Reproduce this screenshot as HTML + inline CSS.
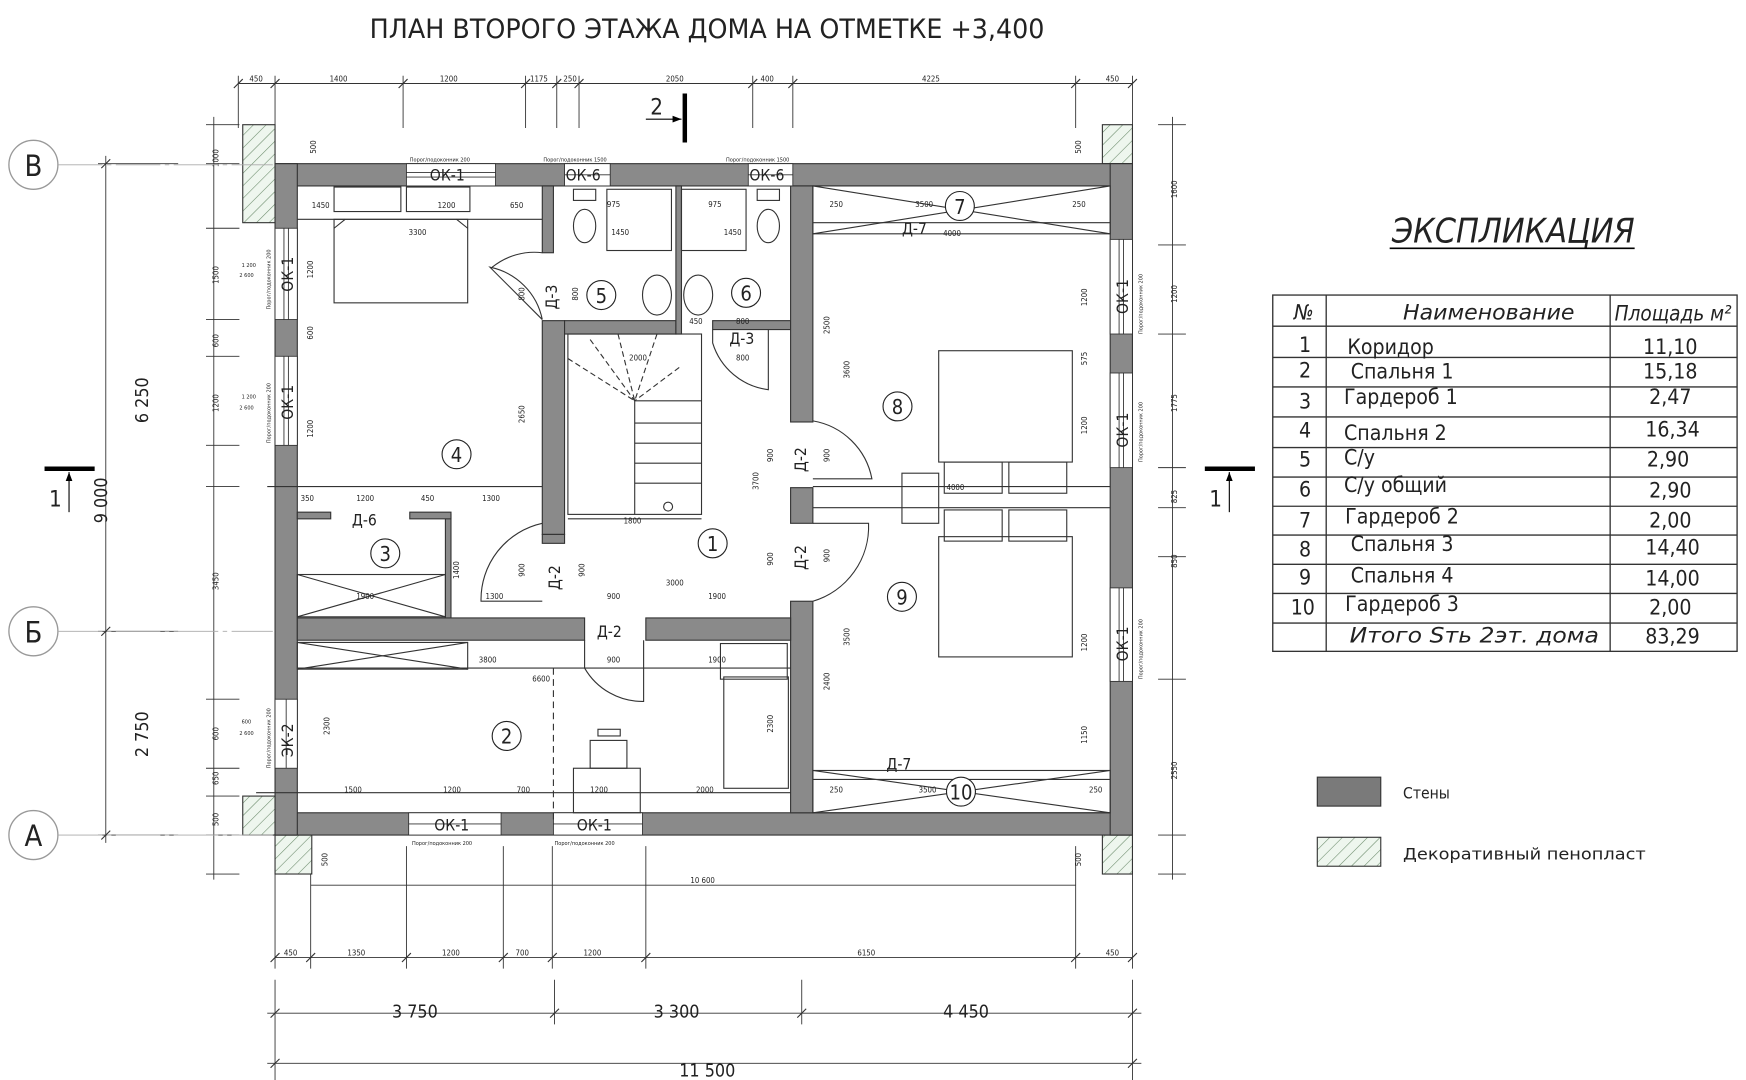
<!DOCTYPE html>
<html><head><meta charset="utf-8"><style>
html,body{margin:0;padding:0;background:#fff;}
svg{display:block;}
text{font-family:"DejaVu Sans Condensed","DejaVu Sans","Liberation Sans",sans-serif;fill:#222;}
.t{font-size:7px;}
.s{font-size:5px;}
.d{font-size:16px;}
</style></head><body>
<svg width="1746" height="1080" viewBox="0 0 1568 970" preserveAspectRatio="none" xmlns="http://www.w3.org/2000/svg">
<defs>
<pattern id="h" width="8" height="8" patternUnits="userSpaceOnUse" patternTransform="rotate(45)">
<rect width="8" height="8" fill="#eef6ee"/><line x1="0" y1="0" x2="0" y2="8" stroke="#6a8a6a" stroke-width="1"/></pattern>
</defs>
<rect width="1568" height="970" fill="#fff"/>
<text x="635" y="34" text-anchor="middle" font-size="24" textLength="606" lengthAdjust="spacingAndGlyphs">ПЛАН ВТОРОГО ЭТАЖА ДОМА НА ОТМЕТКЕ +3,400</text>

<!-- foam blocks -->
<g fill="url(#h)" stroke="#333" stroke-width="1">
<rect x="218" y="112" width="29" height="88"/>
<rect x="990" y="112" width="27" height="35"/>
<rect x="218" y="715" width="29" height="35"/>
<rect x="247" y="750" width="33" height="35"/>
<rect x="990" y="750" width="27" height="35"/>
</g>

<!-- walls -->
<g fill="#8a8a8a" stroke="#333" stroke-width="1">
<rect x="247" y="147" width="770" height="20"/>
<rect x="247" y="730" width="770" height="20"/>
<rect x="247" y="147" width="20" height="603"/>
<rect x="997" y="147" width="20" height="603"/>
<rect x="487" y="167" width="10" height="60"/>
<rect x="487" y="288" width="20" height="192"/>
<rect x="507" y="288" width="100" height="12"/>
<rect x="640" y="288" width="70" height="8"/>
<rect x="607" y="167" width="5" height="133"/>
<rect x="710" y="167" width="20" height="212"/>
<rect x="710" y="438" width="20" height="32"/>
<rect x="710" y="540" width="20" height="190"/>
<rect x="267" y="555" width="258" height="20"/>
<rect x="580" y="555" width="130" height="20"/>
<rect x="487" y="480" width="20" height="8"/>
<rect x="400" y="462" width="5" height="93"/>
<rect x="267" y="460" width="30" height="6"/>
<rect x="368" y="460" width="37" height="6"/>
</g>

<!-- windows -->
<g fill="#fff" stroke="#333" stroke-width="0.8">
<rect x="365" y="147" width="80" height="20"/><line x1="365" y1="155" x2="445" y2="155"/><line x1="365" y1="159" x2="445" y2="159"/>
<rect x="507" y="147" width="41" height="20"/><line x1="507" y1="157" x2="548" y2="157"/>
<rect x="672" y="147" width="40" height="20"/><line x1="672" y1="157" x2="712" y2="157"/>
<rect x="247" y="205" width="20" height="82"/><line x1="255" y1="205" x2="255" y2="287"/><line x1="259" y1="205" x2="259" y2="287"/>
<rect x="247" y="320" width="20" height="80"/><line x1="255" y1="320" x2="255" y2="400"/><line x1="259" y1="320" x2="259" y2="400"/>
<rect x="247" y="628" width="20" height="62"/><line x1="257" y1="628" x2="257" y2="690"/>
<rect x="997" y="215" width="20" height="85"/><line x1="1005" y1="215" x2="1005" y2="300"/><line x1="1009" y1="215" x2="1009" y2="300"/>
<rect x="997" y="335" width="20" height="85"/><line x1="1005" y1="335" x2="1005" y2="420"/><line x1="1009" y1="335" x2="1009" y2="420"/>
<rect x="997" y="528" width="20" height="84"/><line x1="1005" y1="528" x2="1005" y2="612"/><line x1="1009" y1="528" x2="1009" y2="612"/>
<rect x="367" y="730" width="83" height="20"/><line x1="367" y1="740" x2="450" y2="740"/>
<rect x="497" y="730" width="80" height="20"/><line x1="497" y1="740" x2="577" y2="740"/>
</g>
<g font-size="14" fill="#555">
<text x="386" y="162" fill="#555">ОК-1</text><text x="508" y="162">ОК-6</text><text x="673" y="162">ОК-6</text>
<text x="390" y="746">ОК-1</text><text x="518" y="746">ОК-1</text>
<text transform="translate(263,262) rotate(-90)">ОК-1</text>
<text transform="translate(263,377) rotate(-90)">ОК-1</text>
<text transform="translate(263,680) rotate(-90)">ЭК-2</text>
<text transform="translate(1013,282) rotate(-90)">ОК-1</text>
<text transform="translate(1013,402) rotate(-90)">ОК-1</text>
<text transform="translate(1013,594) rotate(-90)">ОК-1</text>
</g>

<!-- interior thin lines -->
<g stroke="#333" stroke-width="1" fill="none">
<line x1="730" y1="437" x2="997" y2="437"/><line x1="730" y1="456" x2="997" y2="456"/>
<rect x="730" y="167" width="267" height="43"/><line x1="730" y1="167" x2="997" y2="210"/><line x1="730" y1="210" x2="997" y2="167"/>
<line x1="730" y1="200" x2="997" y2="200"/>
<rect x="730" y="692" width="267" height="38"/><line x1="730" y1="692" x2="997" y2="730"/><line x1="730" y1="730" x2="997" y2="692"/>
<line x1="730" y1="700" x2="997" y2="700"/>
<rect x="267" y="577" width="153" height="24"/><line x1="267" y1="577" x2="420" y2="601"/><line x1="267" y1="601" x2="420" y2="577"/>
<rect x="267" y="516" width="133" height="38"/><line x1="267" y1="516" x2="400" y2="554"/><line x1="267" y1="554" x2="400" y2="516"/>
<line x1="267" y1="197" x2="487" y2="197"/>
<line x1="240" y1="437" x2="487" y2="437"/>
<line x1="267" y1="600" x2="710" y2="600"/>
<line x1="230" y1="712" x2="710" y2="712"/>
<!-- wardrobe shelves room 4 -->
<rect x="300" y="168" width="60" height="22"/><rect x="365" y="168" width="57" height="22"/>
<!-- beds -->
<rect x="300" y="197" width="120" height="75"/><path d="M300 205 L310 197 M420 205 L410 197"/>
<rect x="843" y="315" width="120" height="100"/><rect x="848" y="415" width="52" height="28"/><rect x="906" y="415" width="52" height="28"/>
<rect x="843" y="482" width="120" height="108"/><rect x="848" y="458" width="52" height="28"/><rect x="906" y="458" width="52" height="28"/>
<rect x="810" y="425" width="33" height="45"/>
<!-- room 2 furniture -->
<rect x="647" y="578" width="60" height="32"/><rect x="650" y="608" width="58" height="100"/>
<rect x="515" y="690" width="60" height="40"/><rect x="530" y="665" width="33" height="25"/><rect x="537" y="655" width="20" height="6"/>
<!-- bathrooms -->
<rect x="545" y="170" width="58" height="55"/><rect x="612" y="170" width="58" height="55"/>
<ellipse cx="590" cy="265" rx="13" ry="18"/><ellipse cx="627" cy="265" rx="13" ry="18"/>
<ellipse cx="525" cy="203" rx="10" ry="15"/><ellipse cx="690" cy="203" rx="10" ry="15"/>
<rect x="515" y="170" width="20" height="10"/><rect x="680" y="170" width="20" height="10"/>
<!-- stairs -->
<rect x="510" y="300" width="120" height="162"/>
<line x1="570" y1="360" x2="630" y2="360"/>
<line x1="570" y1="360" x2="570" y2="462"/>
<line x1="570" y1="380" x2="630" y2="380"/><line x1="570" y1="398" x2="630" y2="398"/><line x1="570" y1="416" x2="630" y2="416"/><line x1="570" y1="434" x2="630" y2="434"/>
<path d="M510 322 L570 360 M530 305 L570 360 M555 300 L570 360 M590 300 L570 360 M610 330 L570 360" stroke-dasharray="5 3"/>
<line x1="510" y1="466" x2="630" y2="466"/>
<circle cx="600" cy="455" r="4"/>
<!-- door arcs -->
<path d="M487 227 A60 60 0 0 0 442 240 L442 240 M487 287 L440 240 A60 60 0 0 1 487 287"/>
<path d="M640 296 L640 308 A60 60 0 0 0 690 350 L690 296"/>
<path d="M730 378 A65 65 0 0 1 783 430 L730 430"/>
<path d="M730 470 L780 470 A70 70 0 0 1 730 540"/>
<path d="M487 470 A70 70 0 0 0 432 540 L487 540"/>
<path d="M525 575 L525 600 A60 60 0 0 0 578 630 L578 575"/>
<line x1="497" y1="600" x2="497" y2="740" stroke-dasharray="6 4"/>
</g>
<g font-size="14" fill="#555">
<text transform="translate(500,278) rotate(-90)">Д-3</text>
<text x="655" y="309">Д-3</text>
<text transform="translate(724,424) rotate(-90)">Д-2</text>
<text transform="translate(724,512) rotate(-90)">Д-2</text>
<text transform="translate(503,530) rotate(-90)">Д-2</text>
<text x="536" y="572">Д-2</text>
<text x="316" y="472">Д-6</text>
<text x="810" y="210">Д-7</text>
<text x="796" y="691">Д-7</text>
</g>

<!-- room numbers -->
<g fill="#fff" stroke="#222" stroke-width="1">
<circle cx="640" cy="488" r="13"/><circle cx="455" cy="661" r="13"/><circle cx="346" cy="497" r="13"/>
<circle cx="410" cy="408" r="13"/><circle cx="540" cy="265" r="13"/><circle cx="670" cy="263" r="13"/>
<circle cx="862" cy="185" r="13"/><circle cx="806" cy="365" r="13"/><circle cx="810" cy="536" r="13"/><circle cx="863" cy="711" r="13"/>
</g>
<g font-size="18" text-anchor="middle">
<text x="640" y="495">1</text><text x="455" y="668">2</text><text x="346" y="504">3</text><text x="410" y="415">4</text>
<text x="540" y="272">5</text><text x="670" y="270">6</text><text x="862" y="192">7</text><text x="806" y="372">8</text>
<text x="810" y="543">9</text><text x="863" y="718">10</text>
</g>

<!-- dimension lines -->
<g stroke="#333" stroke-width="0.8" fill="none">
<line x1="214" y1="75" x2="1017" y2="75"/>
<path d="M214 68 V115 M247 68 V115 M362 68 V115 M472 68 V115 M500 68 V115 M520 68 V115 M676 68 V115 M712 68 V115 M966 68 V115 M1017 68 V115"/>
<line x1="247" y1="860" x2="1017" y2="860"/>
<path d="M247 750 V870 M279 785 V870 M365 760 V870 M452 760 V870 M496 760 V870 M580 760 V870 M966 760 V870 M1017 785 V870"/>
<line x1="279" y1="795" x2="966" y2="795"/>
<line x1="240" y1="910" x2="1025" y2="910"/>
<path d="M247 880 V970 M498 880 V920 M720 880 V920 M1017 880 V970"/>
<line x1="240" y1="955" x2="1025" y2="955"/>
<line x1="192" y1="105" x2="192" y2="790"/>
<path d="M185 112 H215 M185 147 H215 M185 205 H215 M185 287 H215 M185 320 H215 M185 400 H215 M185 437 H215 M185 628 H215 M185 690 H215 M185 715 H215 M185 750 H215 M185 785 H215"/>
<line x1="95" y1="140" x2="95" y2="757"/>
<path d="M88 147 H160 M88 567 H160 M88 750 H160"/>
<line x1="1053" y1="105" x2="1053" y2="790"/>
<path d="M1040 112 H1065 M1040 220 H1065 M1040 300 H1065 M1040 420 H1065 M1040 456 H1065 M1040 500 H1065 M1040 610 H1065 M1040 750 H1065 M1040 785 H1065"/>
</g>
<g stroke="#333" stroke-width="1">
<path d="M210 79 L218 71 M243 79 L251 71 M358 79 L366 71 M468 79 L476 71 M496 79 L504 71 M516 79 L524 71 M672 79 L680 71 M708 79 L716 71 M962 79 L970 71 M1013 79 L1021 71"/>
<path d="M243 864 L251 856 M275 864 L283 856 M361 864 L369 856 M448 864 L456 856 M492 864 L500 856 M576 864 L584 856 M962 864 L970 856 M1013 864 L1021 856"/>
<path d="M243 914 L251 906 M494 914 L502 906 M716 914 L724 906 M1013 914 L1021 906 M243 959 L251 951 M1013 959 L1021 951"/>
<path d="M91 151 L99 143 M91 571 L99 563 M91 754 L99 746"/>
</g>
<g class="t">
<text x="224" y="73">450</text><text x="296" y="73">1400</text><text x="395" y="73">1200</text><text x="476" y="73">1175</text><text x="506" y="73">250</text><text x="598" y="73">2050</text><text x="683" y="73">400</text><text x="828" y="73">4225</text><text x="993" y="73">450</text>
<text x="255" y="858">450</text><text x="312" y="858">1350</text><text x="397" y="858">1200</text><text x="463" y="858">700</text><text x="524" y="858">1200</text><text x="770" y="858">6150</text><text x="993" y="858">450</text>
<text x="620" y="793">10 600</text>
</g>
<g class="d">
<text x="352" y="914">3 750</text><text x="587" y="914">3 300</text><text x="847" y="914">4 450</text>
<text x="610" y="967">11 500</text>
<text transform="translate(133,380) rotate(-90)">6 250</text>
<text transform="translate(96,470) rotate(-90)">9 000</text>
<text transform="translate(133,680) rotate(-90)">2 750</text>
</g>
<g class="t">
<text transform="translate(196,150) rotate(-90)">1000</text>
<text transform="translate(196,255) rotate(-90)">1500</text>
<text transform="translate(196,312) rotate(-90)">600</text>
<text transform="translate(196,370) rotate(-90)">1200</text>
<text transform="translate(196,530) rotate(-90)">3450</text>
<text transform="translate(196,665) rotate(-90)">600</text>
<text transform="translate(196,705) rotate(-90)">650</text>
<text transform="translate(196,742) rotate(-90)">500</text>
<text transform="translate(1057,178) rotate(-90)">1600</text>
<text transform="translate(1057,272) rotate(-90)">1200</text>
<text transform="translate(1057,370) rotate(-90)">1775</text>
<text transform="translate(1057,452) rotate(-90)">825</text>
<text transform="translate(1057,510) rotate(-90)">850</text>
<text transform="translate(1057,700) rotate(-90)">2550</text>
<text transform="translate(971,138) rotate(-90)">500</text><text transform="translate(971,778) rotate(-90)">500</text>
<text transform="translate(284,138) rotate(-90)">500</text><text transform="translate(294,778) rotate(-90)">500</text>
<!-- interior dims -->
<text x="280" y="187">1450</text><text x="393" y="187">1200</text><text x="458" y="187">650</text><text x="367" y="211">3300</text>
<text x="320" y="450">1200</text><text x="378" y="450">450</text><text x="433" y="450">1300</text><text x="270" y="450">350</text>
<text x="560" y="470">1800</text><text x="565" y="324">2000</text><text x="598" y="526">3000</text>
<text x="320" y="538">1900</text><text x="436" y="538">1300</text><text x="545" y="538">900</text><text x="636" y="538">1900</text>
<text x="430" y="595">3800</text><text x="478" y="612">6600</text><text x="545" y="595">900</text><text x="636" y="595">1900</text>
<text x="309" y="712">1500</text><text x="398" y="712">1200</text><text x="464" y="712">700</text><text x="625" y="712">2000</text><text x="530" y="712">1200</text>
<text x="847" y="212">4000</text><text x="850" y="440">4000</text>
<text x="822" y="186">3500</text><text x="825" y="712">3500</text>
<text x="745" y="186">250</text><text x="963" y="186">250</text><text x="745" y="712">250</text><text x="978" y="712">250</text>
<text x="545" y="186">975</text><text x="636" y="186">975</text><text x="549" y="211">1450</text><text x="650" y="211">1450</text>
<text x="661" y="291">800</text><text x="661" y="324">800</text><text x="619" y="291">450</text>
<text transform="translate(471,380) rotate(-90)">2650</text>
<text transform="translate(681,440) rotate(-90)">3700</text>
<text transform="translate(745,300) rotate(-90)">2500</text>
<text transform="translate(763,340) rotate(-90)">3600</text>
<text transform="translate(763,580) rotate(-90)">3500</text>
<text transform="translate(745,620) rotate(-90)">2400</text>
<text transform="translate(694,658) rotate(-90)">2300</text>
<text transform="translate(296,660) rotate(-90)">2300</text>
<text transform="translate(976,275) rotate(-90)">1200</text>
<text transform="translate(976,390) rotate(-90)">1200</text>
<text transform="translate(976,585) rotate(-90)">1200</text>
<text transform="translate(976,668) rotate(-90)">1150</text>
<text transform="translate(976,328) rotate(-90)">575</text>
<text transform="translate(281,250) rotate(-90)">1200</text>
<text transform="translate(281,393) rotate(-90)">1200</text>
<text transform="translate(281,305) rotate(-90)">600</text>
<text transform="translate(412,520) rotate(-90)">1400</text>
<text transform="translate(694,415) rotate(-90)">900</text>
<text transform="translate(694,508) rotate(-90)">900</text>
<text transform="translate(745,415) rotate(-90)">900</text>
<text transform="translate(745,505) rotate(-90)">900</text>
<text transform="translate(471,518) rotate(-90)">900</text>
<text transform="translate(525,518) rotate(-90)">900</text>
<text transform="translate(471,270) rotate(-90)">800</text>
<text transform="translate(519,270) rotate(-90)">800</text>
</g>
<g class="s">
<text x="368" y="145">Порог/подоконник 200</text><text x="488" y="145">Порог/подоконник 1500</text><text x="652" y="145">Порог/подоконник 1500</text>
<text x="370" y="759">Порог/подоконник 200</text><text x="498" y="759">Порог/подоконник 200</text>
<text transform="translate(243,278) rotate(-90)">Порог/подоконник 200</text>
<text transform="translate(243,398) rotate(-90)">Порог/подоконник 200</text>
<text transform="translate(243,690) rotate(-90)">Порог/подоконник 200</text>
<text transform="translate(1026,300) rotate(-90)">Порог/подоконник 200</text>
<text transform="translate(1026,415) rotate(-90)">Порог/подоконник 200</text>
<text transform="translate(1026,610) rotate(-90)">Порог/подоконник 200</text>
<text x="217" y="240">1 200</text><text x="215" y="249">2 600</text>
<text x="217" y="358">1 200</text><text x="215" y="368">2 600</text>
<text x="217" y="650">600</text><text x="215" y="660">2 600</text>
</g>

<!-- axes -->
<g stroke="#999" stroke-width="1.2" fill="#fff">
<circle cx="30" cy="148" r="22"/><circle cx="30" cy="567" r="22"/><circle cx="30" cy="750" r="22"/>
</g>
<g stroke="#aaa" stroke-width="0.8" stroke-dasharray="40 4 4 4">
<line x1="52" y1="148" x2="245" y2="148"/><line x1="52" y1="567" x2="245" y2="567"/><line x1="52" y1="750" x2="245" y2="750"/>
</g>
<g font-size="26" fill="#999" text-anchor="middle">
<text x="30" y="158" fill="#999">В</text><text x="30" y="577" fill="#999">Б</text><text x="30" y="760" fill="#999">А</text>
</g>

<!-- section marks -->
<g stroke="#000">
<line x1="615" y1="84" x2="615" y2="128" stroke-width="4"/>
<line x1="580" y1="107" x2="612" y2="107" stroke-width="1"/>
<line x1="40" y1="421" x2="85" y2="421" stroke-width="4"/>
<line x1="62" y1="424" x2="62" y2="460" stroke-width="1"/>
<line x1="1082" y1="421" x2="1127" y2="421" stroke-width="4"/>
<line x1="1104" y1="424" x2="1104" y2="460" stroke-width="1"/>
</g>
<path d="M612 107 L604 104 L604 110 Z M62 424 L59 432 L65 432 Z M1104 424 L1101 432 L1107 432 Z"/>
<g font-size="20"><text x="584" y="103">2</text><text x="44" y="455">1</text><text x="1086" y="455">1</text></g>

<!-- explication -->
<text x="1250" y="218" font-size="30" font-style="italic" textLength="218" lengthAdjust="spacingAndGlyphs">ЭКСПЛИКАЦИЯ</text>
<line x1="1248" y1="223" x2="1468" y2="223" stroke="#000" stroke-width="1.5"/>
<g stroke="#333" stroke-width="1.2" fill="none">
<rect x="1143" y="265" width="417" height="320"/>
<line x1="1191" y1="265" x2="1191" y2="585"/><line x1="1446" y1="265" x2="1446" y2="585"/>
<path d="M1143 293 H1560 M1143 321 H1560 M1143 347.5 H1560 M1143 374.5 H1560 M1143 402 H1560 M1143 428.5 H1560 M1143 454.7 H1560 M1143 480.6 H1560 M1143 506.8 H1560 M1143 533 H1560 M1143 559.6 H1560"/>
</g>
<g font-size="19">
<text x="1162" y="287" font-style="italic">№</text>
<text x="1260" y="287" font-style="italic" textLength="154" lengthAdjust="spacingAndGlyphs">Наименование</text>
<text x="1450" y="288" font-style="italic" textLength="105" lengthAdjust="spacingAndGlyphs">Площадь м²</text>
<g text-anchor="middle">
<text x="1172" y="316">1</text><text x="1172" y="339">2</text><text x="1172" y="367">3</text><text x="1172" y="393">4</text><text x="1172" y="419">5</text><text x="1172" y="446">6</text><text x="1172" y="474">7</text><text x="1172" y="500">8</text><text x="1172" y="525">9</text><text x="1170" y="552">10</text>
<text x="1500" y="318">11,10</text><text x="1500" y="340">15,18</text><text x="1500" y="363">2,47</text><text x="1502" y="392">16,34</text><text x="1498" y="419">2,90</text><text x="1500" y="447">2,90</text><text x="1500" y="474">2,00</text><text x="1502" y="498">14,40</text><text x="1502" y="526">14,00</text><text x="1500" y="552">2,00</text><text x="1502" y="578">83,29</text>
</g>
<text x="1210" y="318">Коридор</text><text x="1213" y="340">Спальня 1</text><text x="1207" y="363">Гардероб 1</text><text x="1207" y="395">Спальня 2</text><text x="1207" y="417">С/у</text><text x="1207" y="442">С/у общий</text><text x="1208" y="470">Гардероб 2</text><text x="1213" y="495">Спальня 3</text><text x="1213" y="523">Спальня 4</text><text x="1208" y="549">Гардероб 3</text>
<text x="1212" y="577" font-style="italic" textLength="224" lengthAdjust="spacingAndGlyphs">Итого Sть 2эт. дома</text>
</g>

<!-- legend -->
<rect x="1183" y="698" width="57" height="26" fill="#7a7a7a" stroke="#333"/>
<rect x="1183" y="752" width="57" height="26" fill="url(#h)" stroke="#333"/>
<text x="1260" y="717" font-size="14">Стены</text>
<text x="1260" y="772" font-size="14" textLength="218" lengthAdjust="spacingAndGlyphs">Декоративный пенопласт</text>
</svg>
</body></html>
